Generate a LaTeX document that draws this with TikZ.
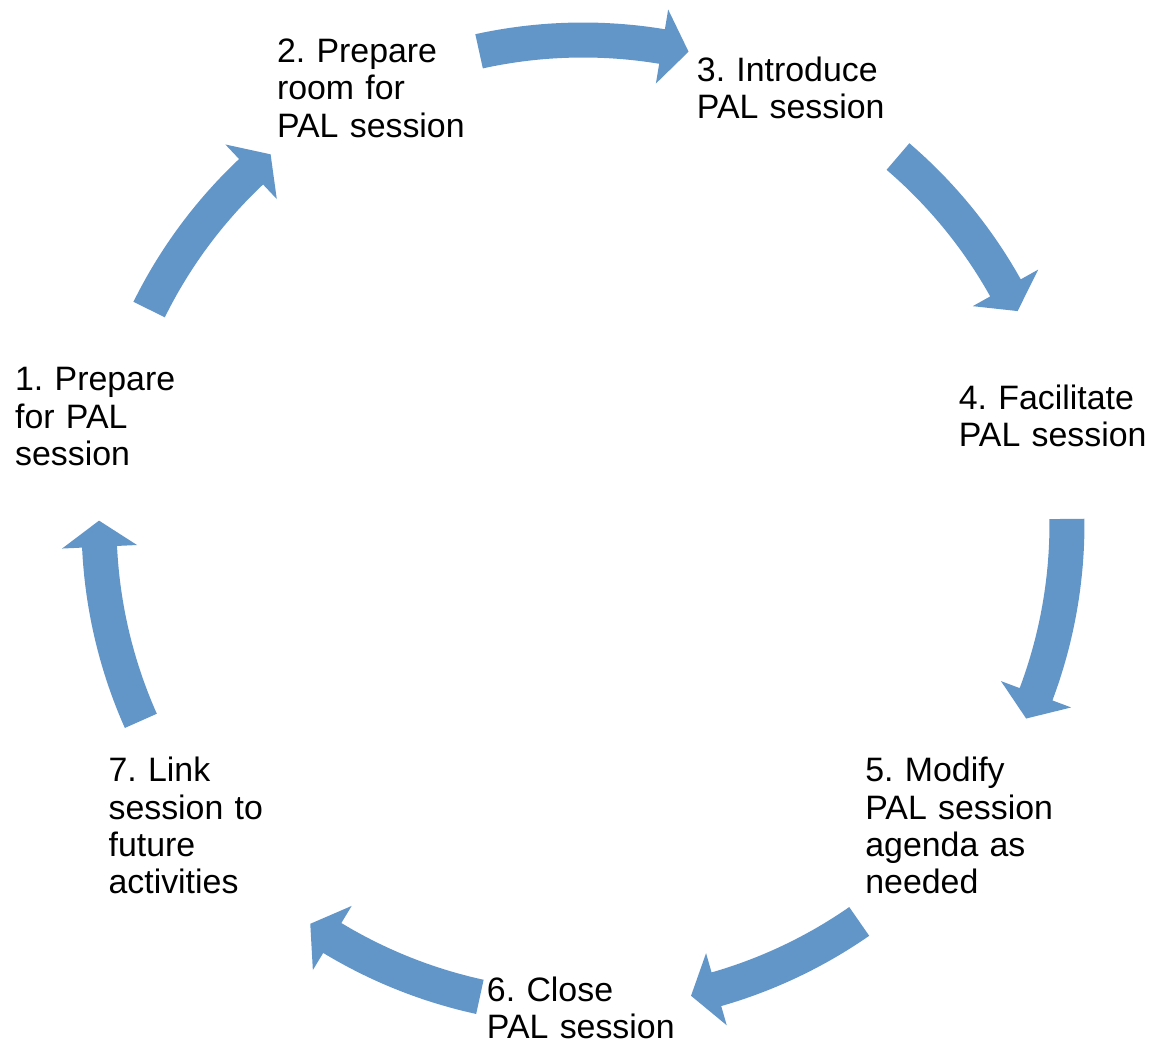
\documentclass[tikz,border=0pt]{standalone}
\usepackage{fontspec}
\setmainfont{Liberation Sans}
\usetikzlibrary{calc}
\definecolor{arrowblue}{RGB}{98,150,201}
% #1 tail angle, #2 head-base angle, #3 tip angle
\newcommand{\cyclearrow}[3]{%
  \fill[arrowfill] (#1:501.5) arc[start angle=#1, end angle=#2, radius=501.5]
    -- (#2:521.5) -- (#3:484) -- (#2:446.5) -- (#2:466.5)
    arc[start angle=#2, end angle=#1, radius=466.5] -- cycle;}
\frenchspacing
\begin{document}
\begin{tikzpicture}[x=0.75pt,y=0.75pt,
  arrowfill/.style={fill=arrowblue},
  lbl/.style={anchor=base west, inner sep=0pt, outer sep=0pt, text width=146pt, align=left,
    font=\fontsize{25.4}{28}\selectfont}]
\useasboundingbox (-583,-520) rectangle (570,524);
% arrows
\cyclearrow{153.7}{133.3}{130.2}
\cyclearrow{102.4}{80.6}{77.4}
\cyclearrow{49.4}{29.2}{26.1}
\cyclearrow{0.6}{-20.6}{-23.7}
\cyclearrow{-55.2}{-74.0}{-77.1}
\cyclearrow{-102.3}{-121.2}{-124.3}
\cyclearrow{-156.0}{-177.3}{-180.4}
% labels
\node[lbl] (n1) at ($(167.14:484)+(-96,25.4)$) {1. Prepare\\for PAL\\session};
\node[lbl] (n2) at ($(115.71:484)+(-96,25.4)$) {2. Prepare\\room for\\PAL session};
\node[lbl] (n3) at ($(64.29:484)+(-96,6.75)$) {3. Introduce\\PAL session};
\node[lbl] (n4) at ($(12.86:484)+(-96,6.75)$) {4. Facilitate\\PAL session};
\node[lbl] (n5) at ($(-38.57:484)+(-96,44.05)$) {5. Modify\\PAL session\\agenda as\\needed};
\node[lbl] (n6) at ($(-90:484)+(-96,6.75)$) {6. Close\\PAL session};
\node[lbl] (n7) at ($(-141.43:484)+(-96,44.05)$) {7. Link\\session to\\future\\activities};
\end{tikzpicture}
\end{document}
